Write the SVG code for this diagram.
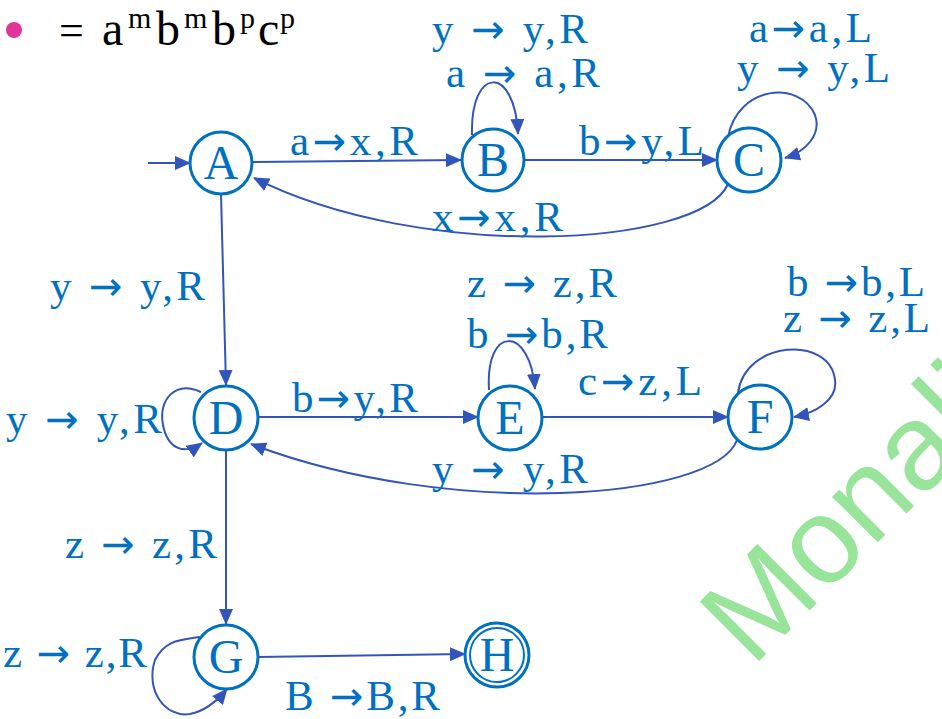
<svg xmlns="http://www.w3.org/2000/svg" width="942" height="719" viewBox="0 0 942 719">
<defs>
<style>
.node circle{fill:#fff;stroke:#0070C0;stroke-width:3}
.node text{font-family:"Liberation Serif","Times New Roman",serif;font-size:48px;fill:#0070C0;text-anchor:middle}
.lbl{font-family:"Liberation Serif","Times New Roman",serif;font-size:43px;fill:#0070C0}
.ar{font-family:"DejaVu Sans",sans-serif;font-size:40px}
.ttl{font-family:"Liberation Serif","Times New Roman",serif;fill:#000}
.edge{fill:none;stroke:#3355BB;stroke-width:2;marker-end:url(#ah)}
</style>
<marker id="ah" markerWidth="16" markerHeight="14" refX="15" refY="7" orient="auto" markerUnits="userSpaceOnUse">
<path d="M0,0 L16,7 L0,14 Z" fill="#3355BB"/>
</marker>
</defs>
<rect width="942" height="719" fill="#fff"/>

<text transform="translate(752,668) rotate(-45)" font-family="'Liberation Sans', Arial, sans-serif" font-size="122" fill="#98E49A">Monali</text>

<g id="title">
<circle cx="14" cy="30" r="8" fill="#E0359A"/>
<text class="ttl"><tspan x="59" y="45" font-size="44">=</tspan><tspan x="102" y="45" font-size="48">a</tspan><tspan x="128" y="28" font-size="30">m</tspan><tspan x="156" y="45" font-size="48">b</tspan><tspan x="184" y="28" font-size="30">m</tspan><tspan x="212" y="45" font-size="48">b</tspan><tspan x="240" y="28" font-size="30">p</tspan><tspan x="258" y="45" font-size="48">c</tspan><tspan x="280" y="28" font-size="30">p</tspan></text>
</g>

<g id="connectors">
<path class="edge" d="M148,163 L190,163"/>
<path class="edge" d="M252,162 L461,160"/>
<path class="edge" d="M524,160 L717,160"/>
<path class="edge" d="M728,184 C700,248 420,262 254,178"/>
<path class="edge" d="M472,135 C470,65 515,65 518,134"/>
<path class="edge" d="M728,137 C738,85 800,80 815,115 C822,135 805,152 785,158"/>
<path class="edge" d="M221,194 L226,385"/>
<path class="edge" d="M201,392 C175,380 158,400 163,425 C168,450 185,455 202,443"/>
<path class="edge" d="M258,417 L478,417"/>
<path class="edge" d="M489,390 C485,325 530,325 535,389"/>
<path class="edge" d="M542,417 L728,417"/>
<path class="edge" d="M738,393 C745,340 830,335 835,380 C838,400 815,413 794,417"/>
<path class="edge" d="M737,440 C715,500 450,520 251,444"/>
<path class="edge" d="M226,450 L226,624"/>
<path class="edge" d="M200,637 C180,640 165,640 155,660 C145,690 165,718 190,714 C205,711 218,700 227,689"/>
<path class="edge" d="M258,657 L465,654"/>
</g>

<g id="labels">
<text class="lbl" x="432" y="43" textLength="156" lengthAdjust="spacing">y <tspan class="ar">→</tspan> y,R</text>
<text class="lbl" x="446" y="87" textLength="154" lengthAdjust="spacing">a <tspan class="ar">→</tspan> a,R</text>
<text class="lbl" x="749" y="42" textLength="123" lengthAdjust="spacing">a<tspan class="ar">→</tspan>a,L</text>
<text class="lbl" x="737" y="82" textLength="153" lengthAdjust="spacing">y <tspan class="ar">→</tspan> y,L</text>
<text class="lbl" x="290" y="155" textLength="128" lengthAdjust="spacing">a<tspan class="ar">→</tspan>x,R</text>
<text class="lbl" x="579" y="155" textLength="125" lengthAdjust="spacing">b<tspan class="ar">→</tspan>y,L</text>
<text class="lbl" x="432" y="231" textLength="131" lengthAdjust="spacing">x<tspan class="ar">→</tspan>x,R</text>
<text class="lbl" x="50" y="300" textLength="155" lengthAdjust="spacing">y <tspan class="ar">→</tspan> y,R</text>
<text class="lbl" x="6" y="433" textLength="156" lengthAdjust="spacing">y <tspan class="ar">→</tspan> y,R</text>
<text class="lbl" x="292" y="412" textLength="126" lengthAdjust="spacing">b<tspan class="ar">→</tspan>y,R</text>
<text class="lbl" x="467" y="297" textLength="150" lengthAdjust="spacing">z <tspan class="ar">→</tspan> z,R</text>
<text class="lbl" x="467" y="348" textLength="141" lengthAdjust="spacing">b <tspan class="ar">→</tspan>b,R</text>
<text class="lbl" x="578" y="395" textLength="124" lengthAdjust="spacing">c<tspan class="ar">→</tspan>z,L</text>
<text class="lbl" x="787" y="296" textLength="138" lengthAdjust="spacing">b <tspan class="ar">→</tspan>b,L</text>
<text class="lbl" x="783" y="332" textLength="147" lengthAdjust="spacing">z <tspan class="ar">→</tspan> z,L</text>
<text class="lbl" x="432" y="483" textLength="156" lengthAdjust="spacing">y <tspan class="ar">→</tspan> y,R</text>
<text class="lbl" x="65" y="558" textLength="152" lengthAdjust="spacing">z <tspan class="ar">→</tspan> z,R</text>
<text class="lbl" x="3" y="667" textLength="144" lengthAdjust="spacing">z <tspan class="ar">→</tspan> z,R</text>
<text class="lbl" x="285" y="710" textLength="155" lengthAdjust="spacing">B <tspan class="ar">→</tspan>B,R</text>
</g>

<g id="A" class="node"><circle cx="221" cy="163" r="31"/><text x="221" y="179">A</text></g>
<g id="B" class="node"><circle cx="493" cy="160" r="31"/><text x="493" y="176">B</text></g>
<g id="C" class="node"><circle cx="749" cy="160" r="32"/><text x="749" y="176">C</text></g>
<g id="D" class="node"><circle cx="226" cy="418" r="32"/><text x="226" y="434">D</text></g>
<g id="E" class="node"><circle cx="510" cy="418" r="32"/><text x="510" y="434">E</text></g>
<g id="F" class="node"><circle cx="760" cy="417" r="32"/><text x="760" y="433">F</text></g>
<g id="G" class="node"><circle cx="226" cy="657" r="32"/><text x="226" y="673">G</text></g>
<g id="H" class="node"><circle cx="497" cy="655" r="32"/><circle cx="497" cy="655" r="27" style="stroke-width:2"/><text x="497" y="671">H</text></g>
</svg>
